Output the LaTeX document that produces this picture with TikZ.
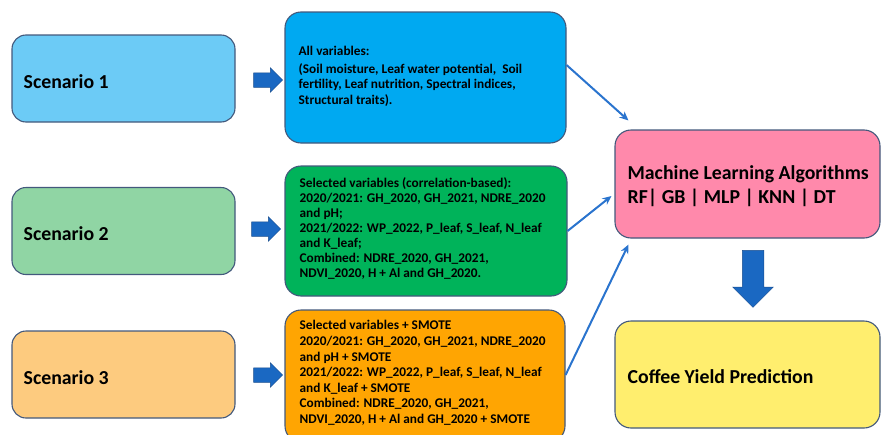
\documentclass[tikz,border=0pt]{standalone}
\usepackage{fontspec}
\setmainfont{Carlito}
\usetikzlibrary{shapes.arrows,arrows.meta}
\definecolor{bordc}{HTML}{43597C}
\definecolor{sone}{HTML}{6CCBF6}
\definecolor{stwo}{HTML}{90D5A4}
\definecolor{sthree}{HTML}{FDCB7F}
\definecolor{vone}{HTML}{00A9F1}
\definecolor{vtwo}{HTML}{00B35A}
\definecolor{vthree}{HTML}{FFA502}
\definecolor{mlc}{HTML}{FF89AB}
\definecolor{cyc}{HTML}{FFEE6E}
\definecolor{linec}{HTML}{2A74CE}
\definecolor{arrfill}{HTML}{1A68C2}
\definecolor{arrdraw}{HTML}{1B4E8E}
\begin{document}
\begin{tikzpicture}[x=1pt,y=-1pt,
  box/.style={draw=bordc,line width=1.1pt,rounded corners=16pt,inner sep=0pt},
  scen/.style={box,rounded corners=14pt,minimum width=223pt,minimum height=87pt},
  txt/.style={inner sep=0pt,align=left,font=\bfseries},
  conn/.style={draw=linec,line width=2pt,-{Stealth[length=9pt,width=8pt]}},
  blockarr/.style={single arrow,fill=arrfill,draw=arrdraw,line width=0.5pt,
    single arrow head extend=5pt,single arrow head indent=0pt,
    inner xsep=0pt,inner ysep=7pt,minimum height=29pt}
]
\useasboundingbox (0,0) rectangle (883,434);

% scenario boxes
\node[scen,fill=sone] (s1) at (123.5,78.5) {};
\node[scen,fill=stwo] (s2) at (123.5,231) {};
\node[scen,fill=sthree] (s3) at (123.5,374.5) {};
\node[txt,anchor=west,font=\bfseries\fontsize{19.8}{22}\selectfont] (s1t) at ([xshift=12pt,yshift=-3pt]s1.west) {Scenario 1};
\node[txt,anchor=west,font=\bfseries\fontsize{19.8}{22}\selectfont] (s2t) at ([xshift=12pt,yshift=-3pt]s2.west) {Scenario 2};
\node[txt,anchor=west,font=\bfseries\fontsize{19.8}{22}\selectfont] (s3t) at ([xshift=12pt,yshift=-3pt]s3.west) {Scenario 3};

% block arrows
\node[blockarr] (a1) at (264.5,80) {};
\node[blockarr] (a2) at (262.5,229) {};
\node[blockarr] (a3) at (264.5,375) {};

% variable boxes
\node[box,fill=vone,minimum width=281pt,minimum height=131pt] (v1) at (425.5,77.5) {};
\node[box,fill=vtwo,minimum width=282pt,minimum height=130pt] (v2) at (426,231) {};
\node[box,fill=vthree,minimum width=280pt,minimum height=132pt] (v3) at (425,376) {};

\node[txt,anchor=west,font=\bfseries\fontsize{13.3}{15.5}\selectfont] (v1t) at ([xshift=14pt,yshift=1pt]v1.west)
 {All variables:\\[2pt](Soil moisture, Leaf water potential, \ Soil\\fertility, Leaf nutrition, Spectral indices,\\Structural traits).};
\node[txt,anchor=west,font=\bfseries\fontsize{13.3}{15}\selectfont] (v2t) at ([xshift=15pt,yshift=3pt]v2.west)
 {Selected variables (correlation-based):\\2020/2021: GH\_2020, GH\_2021, NDRE\_2020\\and pH;\\2021/2022: WP\_2022, P\_leaf, S\_leaf, N\_leaf\\and K\_leaf;\\Combined: NDRE\_2020, GH\_2021,\\NDVI\_2020, H + Al and GH\_2020.};
\node[txt,anchor=north west,font=\bfseries\fontsize{13.3}{15.6}\selectfont] (v3t) at ([xshift=15pt,yshift=-11pt]v3.north west)
 {Selected variables + SMOTE\\2020/2021: GH\_2020, GH\_2021, NDRE\_2020\\and pH + SMOTE\\2021/2022: WP\_2022, P\_leaf, S\_leaf, N\_leaf\\and K\_leaf + SMOTE\\Combined: NDRE\_2020, GH\_2021,\\NDVI\_2020, H + Al and GH\_2020 + SMOTE};

% ML and yield boxes
\node[box,fill=mlc,minimum width=265pt,minimum height=108pt] (ml) at (747.5,184) {};
\node[box,fill=cyc,minimum width=265pt,minimum height=107pt] (cy) at (747.5,374.5) {};
\node[txt,anchor=west,font=\bfseries\fontsize{19.8}{24}\selectfont] (mlt) at ([xshift=13pt,yshift=-2pt]ml.west)
 {Machine Learning Algorithms\\RF| GB | MLP | KNN | DT};
\node[txt,anchor=west,font=\bfseries\fontsize{19.8}{22}\selectfont] (cyt) at ([xshift=13pt,yshift=-2pt]cy.west)
 {Coffee Yield Prediction};

% down arrow
\node[blockarr,rotate=-90,inner ysep=10.5pt,single arrow head extend=9.5pt,minimum height=57pt] (ad) at (753,273.5) {};

% connectors
\draw[conn] ([yshift=12.5pt]v1.east) -- ([xshift=14pt,yshift=9pt]ml.north west);
\draw[conn] (v2.east) -- ([xshift=-3pt,yshift=-12pt]ml.west);
\draw[conn] ([yshift=1pt]v3.east) -- ([xshift=14pt,yshift=-6pt]ml.south west);
\end{tikzpicture}
\end{document}
